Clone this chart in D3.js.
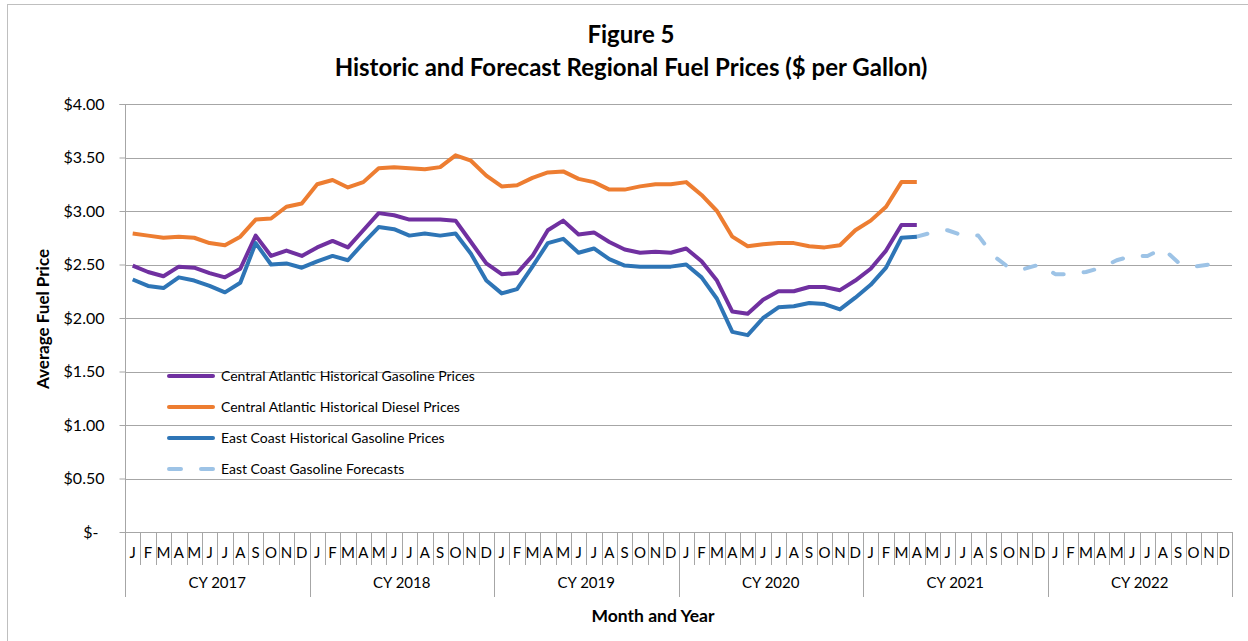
<!DOCTYPE html>
<html>
<head>
<meta charset="utf-8">
<script src="https://cdn.jsdelivr.net/npm/d3@7"></script>
<style>
  body { margin: 0; background: #fff; }
  text { font-family: Lato, "Open Sans", sans-serif; fill: #000; }
</style>
</head>
<body>
<div id="chart"></div>
<script>
// month and year labels
var monthLetters = ["J", "F", "M", "A", "M", "J", "J", "A", "S", "O", "N", "D"];
var yearLabels = ["CY 2017", "CY 2018", "CY 2019", "CY 2020", "CY 2021", "CY 2022"];
var yTicks = [0, 0.5, 1, 1.5, 2, 2.5, 3, 3.5, 4];

// series, Jan 2017 .. Apr 2021
var caGasoline = [
  2.49, 2.43, 2.39, 2.48, 2.47, 2.42, 2.38, 2.46, 2.77, 2.58, 2.63, 2.58,
  2.66, 2.72, 2.66, 2.82, 2.98, 2.96, 2.92, 2.92, 2.92, 2.91, 2.71, 2.51,
  2.41, 2.42, 2.58, 2.82, 2.91, 2.78, 2.80, 2.71, 2.64, 2.61, 2.62, 2.61,
  2.65, 2.53, 2.35, 2.06, 2.04, 2.17, 2.25, 2.25, 2.29, 2.29, 2.26, 2.35,
  2.46, 2.63, 2.87, 2.87
];
var caDiesel = [
  2.79, 2.77, 2.75, 2.76, 2.75, 2.70, 2.68, 2.76, 2.92, 2.93, 3.04, 3.07,
  3.25, 3.29, 3.22, 3.27, 3.40, 3.41, 3.40, 3.39, 3.41, 3.52, 3.47, 3.33,
  3.23, 3.24, 3.31, 3.36, 3.37, 3.30, 3.27, 3.20, 3.20, 3.23, 3.25, 3.25,
  3.27, 3.15, 3.00, 2.76, 2.67, 2.69, 2.70, 2.70, 2.67, 2.66, 2.68, 2.82,
  2.91, 3.04, 3.27, 3.27
];
var ecGasoline = [
  2.36, 2.30, 2.28, 2.38, 2.35, 2.30, 2.24, 2.33, 2.70, 2.50, 2.51, 2.47,
  2.53, 2.58, 2.54, 2.70, 2.85, 2.83, 2.77, 2.79, 2.77, 2.79, 2.60, 2.35,
  2.23, 2.27, 2.48, 2.70, 2.74, 2.61, 2.65, 2.55, 2.49, 2.48, 2.48, 2.48,
  2.50, 2.38, 2.18, 1.87, 1.84, 2.00, 2.10, 2.11, 2.14, 2.13, 2.08, 2.19,
  2.31, 2.47, 2.75, 2.76
];
// forecast, Apr 2021 .. Dec 2022
var forecastStart = 51;
var ecForecast = [
  2.76, 2.80, 2.82, 2.77, 2.77, 2.58, 2.47, 2.46, 2.50,
  2.41, 2.41, 2.43, 2.47, 2.54, 2.58, 2.58, 2.65, 2.52, 2.48, 2.50, 2.50
];

var W = 1248, H = 641;
var plotL = 125, plotR = 1232, plotT = 104, plotB = 532;

var svg = d3.select("#chart").append("svg")
    .attr("width", W).attr("height", H);

// chart border (only top/left visible)
svg.append("rect")
    .attr("x", 7.5).attr("y", 4.5)
    .attr("width", W + 20).attr("height", H + 20)
    .attr("fill", "none").attr("stroke", "#bfbfbf");

var nMonths = yearLabels.length * 12;
var x = d3.scaleBand().domain(d3.range(nMonths)).range([plotL, plotR]).padding(0);
var y = d3.scaleLinear().domain([0, 4]).range([plotB, plotT]);
var cx = function (i) { return x(i) + x.bandwidth() / 2; };

// gridlines
svg.append("g").selectAll("line").data(yTicks.slice(1)).join("line")
    .attr("x1", plotL).attr("x2", plotR)
    .attr("y1", function (d) { return Math.round(y(d)) + 0.5; })
    .attr("y2", function (d) { return Math.round(y(d)) + 0.5; })
    .attr("stroke", "#a6a6a6").attr("stroke-width", 1.2);

// y axis
var yAxis = d3.axisLeft(y).tickValues(yTicks).tickSize(6).tickPadding(15)
    .tickFormat(function (d) { return d === 0 ? "$-" : "$" + d.toFixed(2); });
var gy = svg.append("g").attr("transform", "translate(" + (plotL + 0.5) + ",0)").call(yAxis);
gy.select(".domain").attr("stroke", "#a6a6a6").attr("d", "M-6," + (plotT + 0.5) + "H0V" + (plotB + 0.5));
gy.selectAll(".tick line").attr("stroke", "#a6a6a6");
gy.selectAll(".tick text").style("font-size", "16px").style("font-family", "Lato, sans-serif");
gy.selectAll(".tick").filter(function (d) { return d === 0; }).select("text").attr("dx", -6);

// x axis baseline + separators
svg.append("line").attr("x1", plotL).attr("x2", plotR)
    .attr("y1", plotB + 0.5).attr("y2", plotB + 0.5).attr("stroke", "#a6a6a6");
svg.append("g").selectAll("line").data(d3.range(nMonths + 1)).join("line")
    .attr("x1", function (i) { return Math.round(i < nMonths ? x(i) : plotR) + 0.5; })
    .attr("x2", function (i) { return Math.round(i < nMonths ? x(i) : plotR) + 0.5; })
    .attr("y1", plotB)
    .attr("y2", function (i) { return i % 12 === 0 ? 597 : 565; })
    .attr("stroke", "#a6a6a6");

svg.append("g").selectAll("text").data(d3.range(nMonths)).join("text")
    .attr("x", cx).attr("y", 558).attr("text-anchor", "middle")
    .style("font-size", "15px")
    .text(function (i) { return monthLetters[i % 12]; });

svg.append("g").selectAll("text").data(yearLabels).join("text")
    .attr("x", function (d, k) { return (x(k * 12) + (k === yearLabels.length - 1 ? plotR : x(k * 12 + 12))) / 2; })
    .attr("y", 588).attr("text-anchor", "middle")
    .style("font-size", "15px")
    .text(function (d) { return d; });

// titles
svg.append("text").attr("x", 631).attr("y", 43).attr("text-anchor", "middle")
    .style("font-size", "24px").style("font-weight", "bold").text("Figure 5");
svg.append("text").attr("x", 631).attr("y", 76).attr("text-anchor", "middle")
    .style("font-size", "24px").style("font-weight", "bold")
    .text("Historic and Forecast Regional Fuel Prices ($ per Gallon)");
svg.append("text").attr("x", 653).attr("y", 622).attr("text-anchor", "middle")
    .style("font-size", "17.5px").style("font-weight", "bold").text("Month and Year");
svg.append("text").attr("transform", "translate(49,319) rotate(-90)").attr("text-anchor", "middle")
    .style("font-size", "17px").style("font-weight", "bold").text("Average Fuel Price");

// lines
var series = [
  { name: "Central Atlantic Historical Gasoline Prices", color: "#7030a0", values: caGasoline, start: 0, dash: null },
  { name: "Central Atlantic Historical Diesel Prices", color: "#ed7d31", values: caDiesel, start: 0, dash: null },
  { name: "East Coast Historical Gasoline Prices", color: "#2e75b6", values: ecGasoline, start: 0, dash: null },
  { name: "East Coast Gasoline Forecasts", color: "#9dc3e6", values: ecForecast, start: forecastStart, dash: "11,20" }
];

var line = d3.line()
    .x(function (d) { return cx(d.i); })
    .y(function (d) { return y(d.v); });

// draw order: forecast underneath
[3, 1, 0, 2].forEach(function (k) {
  var s = series[k];
  var pts = s.values.map(function (v, j) { return { i: s.start + j, v: v }; });
  svg.append("path").datum(pts)
      .attr("d", line)
      .attr("fill", "none")
      .attr("stroke", s.color)
      .attr("stroke-width", 4)
      .attr("stroke-linejoin", "round")
      .attr("stroke-linecap", s.dash ? "round" : "butt")
      .attr("stroke-dasharray", s.dash);
});

// legend
var legendY = [376, 407, 438, 469];
var lg = svg.append("g").selectAll("g").data(series).join("g")
    .attr("transform", function (d, k) { return "translate(0," + legendY[k] + ")"; });
lg.append("line").attr("x1", 169).attr("x2", 213)
    .attr("stroke", function (d) { return d.color; })
    .attr("stroke-width", 4).attr("stroke-linecap", "round")
    .attr("stroke-dasharray", function (d) { return d.dash ? "12,20" : null; });
lg.append("text").attr("x", 221).attr("y", 5).style("font-size", "14px")
    .text(function (d) { return d.name; });
</script>
</body>
</html>
